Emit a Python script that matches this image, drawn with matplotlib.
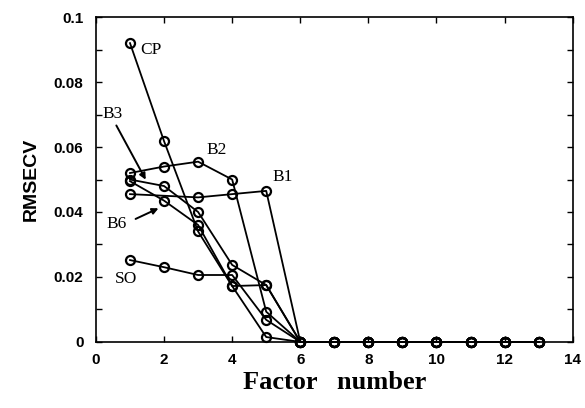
import numpy as np
import matplotlib
matplotlib.use("Agg")
import matplotlib.pyplot as plt
from matplotlib.ticker import MultipleLocator

# factor numbers
x_head = [1, 2, 3, 4, 5]
x_tail = [6, 7, 8, 9, 10, 11, 12, 13]

# RMSECV for the first five factors
cp = [0.0920, 0.0618, 0.0340, 0.0172, 0.0175]
b1 = [0.0455, np.nan, 0.0445, 0.0455, 0.0465]
b2 = [0.0520, 0.0540, 0.0555, 0.0500, 0.0093]
b3 = [0.0500, 0.0480, 0.0400, 0.0237, 0.0175]
b6 = [0.0495, 0.0435, 0.0360, 0.0172, 0.0015]
so = [0.0252, 0.0230, 0.0206, 0.0206, 0.0068]
tail = [0.0, 0.0, 0.0, 0.0, 0.0, 0.0, 0.0, 0.0]

series = {"CP": cp, "B1": b1, "B2": b2, "B3": b3, "B6": b6, "SO": so}

fig = plt.figure(figsize=(5.85, 4.08), dpi=100)
ax = fig.add_axes([0.164, 0.162, 0.815, 0.796])

for name, vals in series.items():
    xs = np.array(x_head + x_tail, dtype=float)
    ys = np.array(vals + tail, dtype=float)
    ok = ~np.isnan(ys)
    ax.plot(xs[ok], ys[ok], color="black", lw=1.3, marker="o", ms=6.5,
            mfc="none", mec="black", mew=1.6, clip_on=False, zorder=3)

ax.set_xlim(0, 14)
ax.set_ylim(0, 0.1)
ax.xaxis.set_major_locator(MultipleLocator(2))
ax.yaxis.set_minor_locator(MultipleLocator(0.01))
ax.set_yticks([0, 0.02, 0.04, 0.06, 0.08, 0.1])
ax.set_yticklabels(["0", "0.02", "0.04", "0.06", "0.08", "0.1"])
ax.tick_params(which="both", direction="in", top=True, right=True,
               length=4, width=1)
tick_font = {"family": "Liberation Sans", "weight": "bold", "size": 11}
for lab in ax.get_xticklabels() + ax.get_yticklabels():
    lab.set_fontproperties(tick_font)
ax.tick_params(axis="x", pad=8)
ax.tick_params(axis="y", pad=9)
for sp in ax.spines.values():
    sp.set_linewidth(1.2)

ax.set_ylabel("RMSECV", fontfamily="Liberation Sans", fontweight="bold",
              fontsize=14, labelpad=10)
ax.set_xlabel("Factor   number", fontfamily="Liberation Serif",
              fontweight="bold", fontsize=19, labelpad=3)

lab_kw = dict(fontfamily="Liberation Serif", fontsize=12.5, ha="center", va="center")
ax.text(1.61, 0.0898, "CP", **lab_kw)
ax.text(0.50, 0.0702, "B3", **lab_kw)
ax.text(3.55, 0.0591, "B2", **lab_kw)
ax.text(5.49, 0.0508, "B1", **lab_kw)
ax.text(0.62, 0.0363, "B6", **lab_kw)
ax.text(0.88, 0.0194, "SO", **lab_kw)

arrow = dict(arrowstyle="-|>", color="black", lw=1.4, mutation_scale=9)
ax.annotate("", xy=(1.50, 0.0492), xytext=(0.56, 0.0674), arrowprops=arrow)
ax.annotate("", xy=(1.91, 0.0415), xytext=(1.09, 0.0375), arrowprops=arrow)

fig.savefig("out.png", dpi=100, facecolor="white")
